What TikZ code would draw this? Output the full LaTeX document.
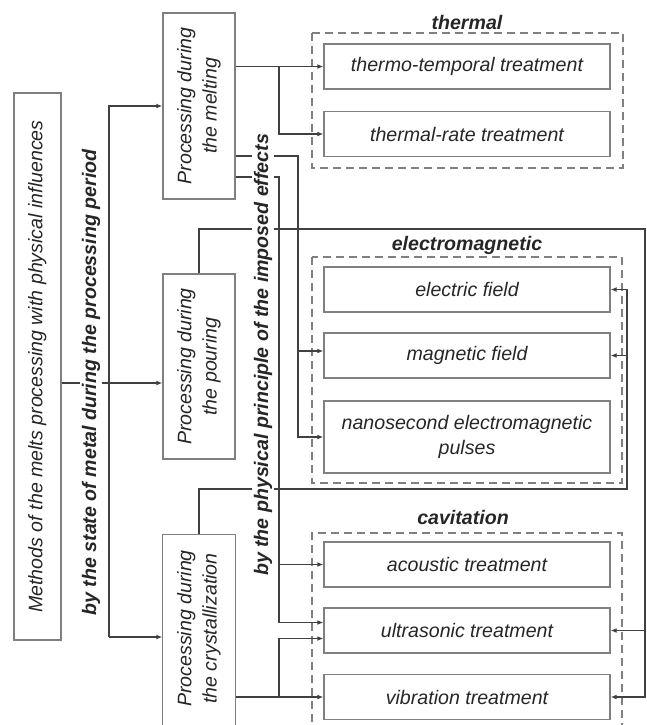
\documentclass[tikz,border=0pt]{standalone}
\usepackage{fontspec}
\setmainfont{Liberation Sans}
\usetikzlibrary{arrows.meta}
\definecolor{boxgray}{gray}{0.5}
\definecolor{linegray}{gray}{0.25}
\newcommand{\vtext}[1]{\rotatebox{90}{\begin{tabular}{@{}c@{}}#1\end{tabular}}}
\tikzset{
  box/.style={draw=boxgray,line width=0.6pt,inner sep=1pt,align=center,text=black!85,font=\fontsize{9.8}{12.5}\selectfont\itshape},
  vbox/.style={box,minimum width=36pt},
  tbox/.style={box,minimum width=143pt,minimum height=22.5pt},
  grp/.style={draw=boxgray,line width=0.6pt,dash pattern=on 4pt off 2.5pt},
  conn/.style={draw=linegray,line width=0.6pt},
  arr/.style={conn,-{Latex[length=3pt,width=2.4pt]}},
  head/.style={font=\fontsize{9.8}{12}\selectfont\bfseries\itshape,text=black!85},
  side/.style={head,rotate=90,fill=white,inner sep=1pt}
}
\begin{document}
\begin{tikzpicture}[x=0.5pt,y=-0.5pt]
\useasboundingbox (0,0) rectangle (647,725);
\clip (0,0) rectangle (647,725);
\node[vbox,minimum width=23.5pt,minimum height=273.5pt] (methods) at (37.5,366.5) {\vtext{Methods of the melts processing with physical influences}};
\node[vbox,minimum height=93pt] (melt) at (199,106) {\vtext{Processing during\\the melting}};
\node[vbox,minimum height=92.5pt] (pour) at (199,366.5) {\vtext{Processing during\\the pouring}};
\node[vbox,draw=none,minimum height=93.5pt] (cryst) at (199,628.5) {\vtext{Processing during\\the crystallization}};
\draw[draw=boxgray,line width=0.6pt] ([yshift=-8pt]cryst.south west) rectangle (cryst.north east);
\node[tbox] (thermo) at (467,66.5) {thermo-temporal treatment};
\node[tbox] (rate) at (467,134) {thermal-rate treatment};
\node[tbox] (elec) at (467,289.5) {electric field};
\node[tbox] (magn) at (467,355.5) {magnetic field};
\node[tbox,minimum height=36pt] (nano) at (467,437) {nanosecond electromagnetic\\pulses};
\node[tbox] (acou) at (467,564.5) {acoustic treatment};
\node[tbox] (ultra) at (467,630.5) {ultrasonic treatment};
\node[tbox] (vibr) at (467,697) {vibration treatment};
\node[head] (thermal) at (467,22) {thermal};
\node[head] (emag) at (467,245) {electromagnetic};
\node[head] (cavit) at (463,517) {cavitation};
\draw[grp] (312,33) rectangle (623,168);
\draw[grp] (312,257) rectangle (622,483);
\draw[grp] (312,735) -- (312,533) -- (622,533) -- (622,735);
\coordinate (t1) at (109,0);
\coordinate (t2) at (279,0);
\coordinate (t3) at (298,0);
\coordinate (r1) at (627,0);
\coordinate (r2) at (645,0);
\coordinate (h1) at (0,229);
\coordinate (h2) at (0,489);
\coordinate (mout) at ([yshift=-8.25pt]methods.east);
\coordinate (cin) at ([yshift=-4.25pt]cryst.west);
\coordinate (m1) at ([yshift=-25pt]melt.east);
\coordinate (m2) at ([yshift=-35.5pt]melt.east);
\coordinate (mgin) at ([yshift=2.25pt]magn.west);
\coordinate (uin1) at ([yshift=4pt]ultra.west);
\coordinate (uin2) at ([yshift=-4pt]ultra.west);
\draw[arr] (mout) -- (mout -| pour.west);
\draw[arr] (t1 |- cin) -- (t1 |- melt.west) -- (melt.west);
\draw[arr] (t1 |- cin) -- (cin);
\draw[arr] (melt.east |- thermo.west) -- (thermo.west);
\draw[arr] (t2 |- thermo.west) |- (rate.west);
\draw[arr] (m1) -| (t3 |- mgin) -- (mgin);
\draw[arr] (m1 -| t3) |- (nano.west);
\draw[arr] (m2) -| (t2 |- uin1) -- (uin1);
\draw[arr] (m2 -| t2) |- (acou.west);
\draw[arr] (cryst.east |- vibr.west) -- (vibr.west);
\draw[arr] (t2 |- vibr.west) |- (uin2);
\draw[arr] (pour.north) |- (r2 |- h1) -- (r2 |- vibr.east) -- (vibr.east);
\draw[arr] (r2 |- ultra.east) -- (ultra.east);
\draw[arr] (cryst.north) |- (r1 |- h2) -- (r1 |- elec.east) -- (elec.east);
\draw[arr] (r1 |- magn.east) -- (magn.east);
\node[side] (bystate) at (91,382.5) {by the state of metal during the processing period};
\node[side] (byprinc) at (263,355) {by the physical principle of the imposed effects};
\end{tikzpicture}
\end{document}
